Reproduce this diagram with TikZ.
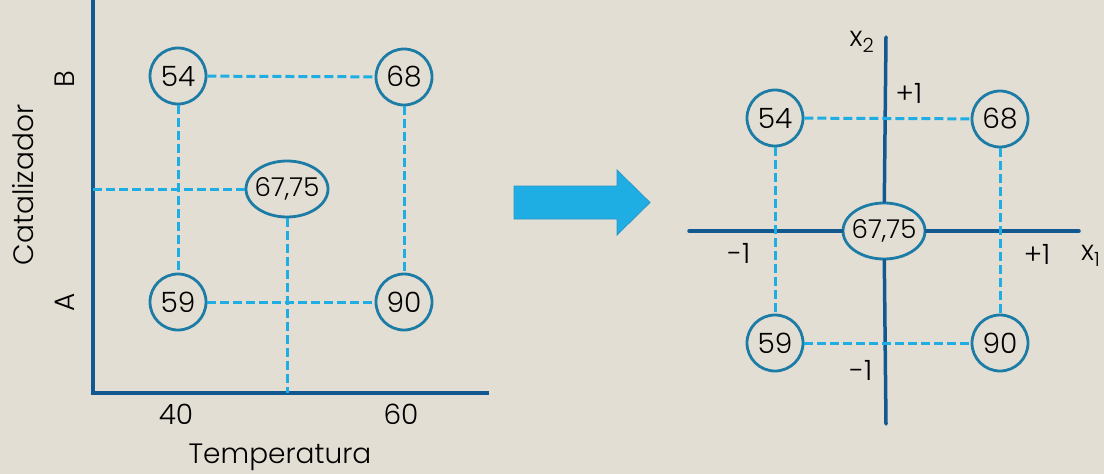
\documentclass[tikz,border=0pt]{standalone}
\usepackage{fontspec}
\setmainfont{Poppins}[UprightFont=*-Light]
\usetikzlibrary{shapes.geometric}
\definecolor{bg}{RGB}{227,222,211}
\definecolor{axisblue}{RGB}{18,88,145}
\definecolor{ringblue}{RGB}{28,124,166}
\definecolor{dashblue}{RGB}{30,174,228}
\definecolor{arrowedge}{RGB}{40,150,200}
\begin{document}
\begin{tikzpicture}[x=1pt,y=-1pt,
  val/.style={circle, draw=ringblue, line width=2.8pt, fill=bg, minimum size=56pt, inner sep=0pt, font=\fontsize{28}{28}\selectfont},
  cen/.style={ellipse, draw=ringblue, line width=2.8pt, fill=bg, minimum width=82pt, minimum height=56pt, inner ysep=0pt, inner xsep=-7pt, font=\fontsize{26}{26}\selectfont},
  ax/.style={draw=axisblue, line width=4pt},
  dsh/.style={draw=dashblue, line width=3pt, dash pattern=on 9pt off 4pt},
  lbl/.style={font=\fontsize{28}{28}\selectfont, text=black, inner sep=0pt}]
\fill[bg] (0,0) rectangle (1104,474);
\useasboundingbox (0,0) rectangle (1104,474);

% ---------- left diagram ----------
\coordinate (Ltop) at (93,0);
\coordinate (O) at (93,393);
\coordinate (Xend) at (489,393);
\coordinate (yl) at (93,189);
\coordinate (xl) at (287,393);
\draw[ax, line join=miter] (Ltop) -- (O) -- (Xend);

\node[val] (a54) at (178,76) {54};
\node[val] (a68) at (404,77) {68};
\node[val] (a59) at (178,302) {59};
\node[val] (a90) at (404,302) {90};
\node[cen] (a67) at (287,189) {67,75};

\draw[dsh] (a54) -- (a68);
\draw[dsh] (a54) -- (a59);
\draw[dsh] (a68) -- (a90);
\draw[dsh] (a59) -- (a90);
\draw[dsh] (yl) -- (a67.west);
\draw[dsh] (a67.south) -- (xl);

\node[lbl] (t40) at (176,414) {40};
\node[lbl] (t60) at (401,414) {60};
\node[lbl] (temp) at (280,457) {Temperatura};
\node[lbl, rotate=90] (cat) at (23,185) {Catalizador};
\node[lbl, rotate=90] (tB) at (65,79) {B};
\node[lbl, rotate=90] (tA) at (65,302) {A};

% ---------- arrow ----------
\fill[dashblue, draw=arrowedge, line width=0.8pt]
  (514,186) -- (617,186) -- (617,170) -- (650,202.5) -- (617,235) -- (617,219) -- (514,219) -- cycle;

% ---------- right diagram ----------
\coordinate (vt) at (886,37);
\coordinate (vb) at (886,424);
\coordinate (hl) at (689,231);
\coordinate (hr) at (1079,231);
\node[cen] (b67) at (884,231) {67,75};
\draw[ax, line width=3.5pt, line cap=round] (vt) -- (b67);
\draw[ax, line width=3.5pt, line cap=round] (b67) -- (vb);
\draw[ax, line width=3.5pt, line cap=round] (hl) -- (b67);
\draw[ax, line width=3.5pt, line cap=round] (b67) -- (hr);

\node[val] (b54) at (775,118) {54};
\node[val] (b68) at (1000,119) {68};
\node[val] (b59) at (775,343) {59};
\node[val] (b90) at (1000,343) {90};

\draw[dsh] (b54) -- (b68);
\draw[dsh] (b54) -- (b59);
\draw[dsh] (b68) -- (b90);
\draw[dsh] (b59) -- (b90);

\node[lbl] (x2) at (862,42) {x\textsubscript{2}};
\node[lbl] (p1v) at (909,93) {+1};
\node[lbl] (m1h) at (739,253) {-1};
\node[lbl] (p1h) at (1037,254) {+1};
\node[lbl, anchor=west] (x1) at (1081,256) {x\textsubscript{1}};
\node[lbl] (m1v) at (861,370) {-1};
\end{tikzpicture}
\end{document}
